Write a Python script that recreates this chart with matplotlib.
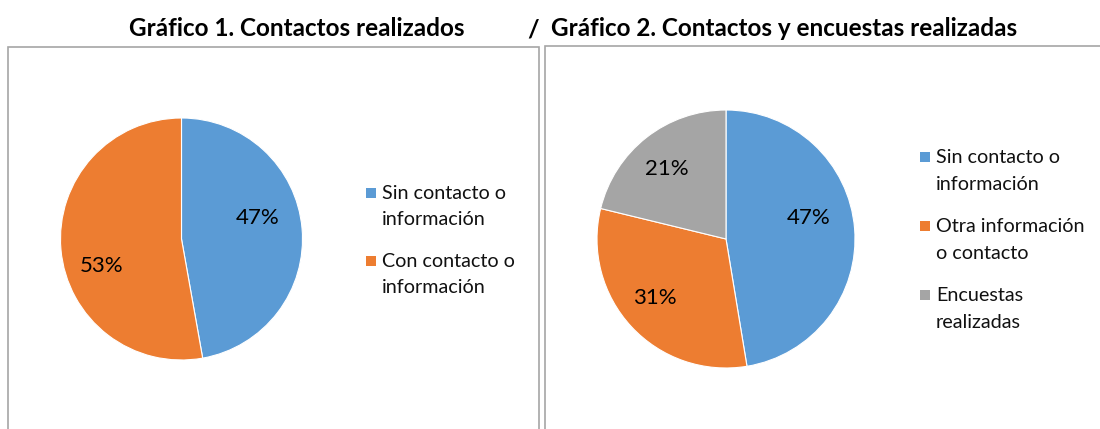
import matplotlib
matplotlib.use("Agg")
import matplotlib.pyplot as plt
from matplotlib.patches import Rectangle

plt.rcParams['font.family'] = ['Lato', 'DejaVu Sans']

# ---- data ----
TITLE_1 = "Gráfico 1. Contactos realizados"
TITLE_2 = "Gráfico 2. Contactos y encuestas realizadas"

labels_1 = ["Sin contacto o\ninformación", "Con contacto o\ninformación"]
values_1 = [47.2, 52.8]

labels_2 = ["Sin contacto o\ninformación", "Otra información\no contacto", "Encuestas\nrealizadas"]
values_2 = [47.4, 31.4, 21.2]

BLUE, ORANGE, GREY = '#5B9BD5', '#ED7D31', '#A5A5A5'
colors_1 = [BLUE, ORANGE]
colors_2 = [BLUE, ORANGE, GREY]

# label positions inside the pies (in radius units), Excel "best fit" look
pct_pos_1 = [(0.63, 0.17), (-0.66, -0.22)]
pct_pos_2 = [(0.64, 0.16), (-0.55, -0.46), (-0.46, 0.54)]

W, H = 1100, 429
fig = plt.figure(figsize=(W / 100, H / 100), dpi=100)
fig.patch.set_facecolor('white')


def fx(x):
    return x / W


def fy(y):
    return 1 - y / H


def pie_axes(cx, cy, r):
    return fig.add_axes([fx(cx - r), fy(cy + r), 2 * r / W, 2 * r / H])


def draw_pie(ax, values, colors, pct_pos):
    wedges, texts, autotexts = ax.pie(
        values, colors=colors, startangle=90, counterclock=False,
        autopct='%1.0f%%', radius=1,
        wedgeprops=dict(edgecolor='white', linewidth=0.8),
        textprops=dict(fontsize=16, color='black'))
    for t, p in zip(autotexts, pct_pos):
        t.set_position(p)
        t.set_ha('center')
        t.set_va('center')
    ax.set_xlim(-1, 1)
    ax.set_ylim(-1, 1)
    ax.axis('off')


def draw_legend(x_sq, x_txt, y_base, labels, colors, line_gap=26, entry_gap=69):
    for i, (lab, col) in enumerate(zip(labels, colors)):
        yb = y_base + i * entry_gap
        fig.add_artist(Rectangle((fx(x_sq), fy(yb - 1)), 10 / W, 10 / H,
                                 transform=fig.transFigure, facecolor=col,
                                 edgecolor='none'))
        for j, line in enumerate(lab.split('\n')):
            fig.text(fx(x_txt), fy(yb + j * line_gap), line, fontsize=14.2,
                     color='#111111', ha='left', va='baseline')


# ---- frames ----
frame_col = '#A6A6A6'
fig.add_artist(Rectangle((fx(8), -0.1), fx(539) - fx(8), fy(47) + 0.1,
                         transform=fig.transFigure, fill=False,
                         edgecolor=frame_col, linewidth=1.2))
fig.add_artist(Rectangle((fx(545), -0.1), 1.0, fy(46) + 0.1,
                         transform=fig.transFigure, fill=False,
                         edgecolor=frame_col, linewidth=1.2))

# ---- titles ----
fig.text(fx(297), fy(36), TITLE_1, ha='center', va='baseline',
         fontsize=17.5, fontweight='bold')
fig.text(fx(533), fy(37), "/", ha='center', va='baseline',
         fontsize=18, fontweight='bold')
fig.text(fx(551), fy(36), TITLE_2, ha='left', va='baseline',
         fontsize=17.5, fontweight='bold')

# ---- pies ----
ax1 = pie_axes(181.5, 239, 121)
draw_pie(ax1, values_1, colors_1, pct_pos_1)

ax2 = pie_axes(726, 239, 129)
draw_pie(ax2, values_2, colors_2, pct_pos_2)

# ---- legends ----
draw_legend(366, 382, 199, labels_1, colors_1, line_gap=26, entry_gap=68)
draw_legend(920, 936, 163, labels_2, colors_2, line_gap=27, entry_gap=69)

fig.savefig("out.png", dpi=100, facecolor='white')
